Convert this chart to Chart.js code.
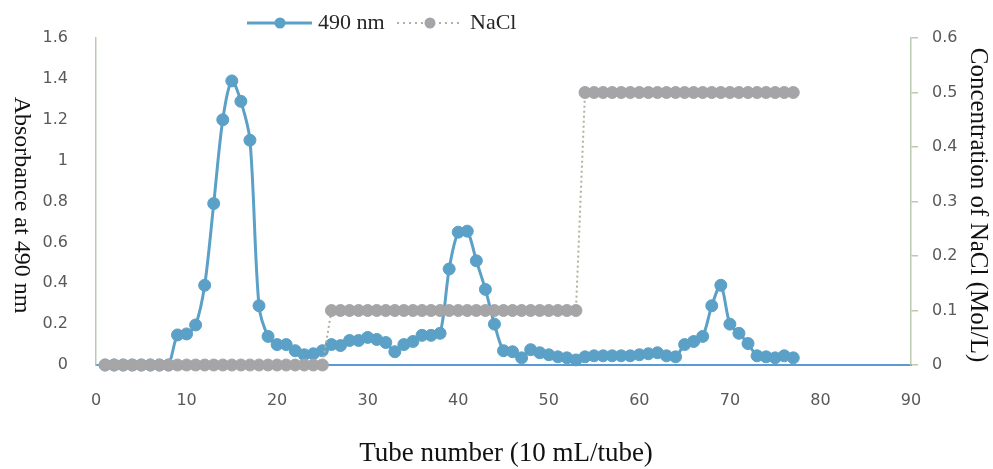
<!DOCTYPE html>
<html>
<head>
<meta charset="utf-8">
<script src="https://cdn.jsdelivr.net/npm/chart.js@4.4.1/dist/chart.umd.min.js"></script>
<style>
  html, body { margin: 0; padding: 0; background: #fff; }
  #wrap { width: 993px; height: 469px; }
</style>
</head>
<body>
<div id="wrap"><canvas id="chart"></canvas></div>
<script>
// tube numbers
const tubes = [
  1, 2, 3, 4, 5, 6, 7, 8, 9, 10,
  11, 12, 13, 14, 15, 16, 17, 18, 19, 20,
  21, 22, 23, 24, 25, 26, 27, 28, 29, 30,
  31, 32, 33, 34, 35, 36, 37, 38, 39, 40,
  41, 42, 43, 44, 45, 46, 47, 48, 49, 50,
  51, 52, 53, 54, 55, 56, 57, 58, 59, 60,
  61, 62, 63, 64, 65, 66, 67, 68, 69, 70,
  71, 72, 73, 74, 75, 76, 77
];

// absorbance at 490 nm
const absorbance = [
  0, 0, 0, 0, 0, 0, 0, 0, 0.147, 0.152,
  0.196, 0.39, 0.79, 1.2, 1.39, 1.29, 1.1, 0.29, 0.14, 0.1,
  0.1, 0.07, 0.05, 0.055, 0.07, 0.1, 0.095, 0.12, 0.12, 0.135,
  0.125, 0.11, 0.065, 0.1, 0.115, 0.145, 0.145, 0.155, 0.47, 0.65,
  0.655, 0.51, 0.37, 0.2, 0.07, 0.065, 0.035, 0.075, 0.06, 0.05,
  0.04, 0.035, 0.025, 0.04, 0.045, 0.045, 0.045, 0.045, 0.045, 0.05,
  0.055, 0.06, 0.045, 0.04, 0.1, 0.115, 0.14, 0.29, 0.39, 0.2,
  0.155, 0.105, 0.045, 0.04, 0.035, 0.045, 0.035
];

// NaCl concentration (Mol/L)
const nacl = [
  0, 0, 0, 0, 0, 0, 0, 0, 0, 0,
  0, 0, 0, 0, 0, 0, 0, 0, 0, 0,
  0, 0, 0, 0, 0, 0.1, 0.1, 0.1, 0.1, 0.1,
  0.1, 0.1, 0.1, 0.1, 0.1, 0.1, 0.1, 0.1, 0.1, 0.1,
  0.1, 0.1, 0.1, 0.1, 0.1, 0.1, 0.1, 0.1, 0.1, 0.1,
  0.1, 0.1, 0.1, 0.5, 0.5, 0.5, 0.5, 0.5, 0.5, 0.5,
  0.5, 0.5, 0.5, 0.5, 0.5, 0.5, 0.5, 0.5, 0.5, 0.5,
  0.5, 0.5, 0.5, 0.5, 0.5, 0.5, 0.5
];

const BLUE = '#5ba0c6';
const GRAY = '#a5a5a7';
const DOTS = '#a9b59c';
const AXIS = '#b9cbb0';
const TICK_FONT = { family: '"DejaVu Sans"', size: 16 };

const toPoints = (ys) => tubes.map((t, i) => ({ x: t, y: ys[i] }));
const plainNumber = (v) => String(Number(v.toFixed(2)));

// titles and legend drawn by hand (left title reads top-down like the original)
const decorations = {
  id: 'decorations',
  afterDraw(chart) {
    const ctx = chart.ctx;
    ctx.save();
    ctx.fillStyle = '#111';
    ctx.textAlign = 'center';
    ctx.textBaseline = 'middle';

    ctx.font = '27px "Liberation Serif"';
    ctx.fillText('Tube number (10 mL/tube)', 506, 454);

    ctx.font = '24px "Liberation Serif"';
    ctx.save();
    ctx.translate(21, 205);
    ctx.rotate(Math.PI / 2);
    ctx.fillText('Absorbance at 490 nm', 0, 0);
    ctx.restore();

    ctx.font = '25px "Liberation Serif"';
    ctx.save();
    ctx.translate(978, 205);
    ctx.rotate(Math.PI / 2);
    ctx.fillText('Concentration of NaCl (Mol/L)', 0, 0);
    ctx.restore();

    // legend
    const ly = 23;
    ctx.lineWidth = 3;
    ctx.strokeStyle = BLUE;
    ctx.beginPath();
    ctx.moveTo(247, ly);
    ctx.lineTo(312, ly);
    ctx.stroke();
    ctx.fillStyle = BLUE;
    ctx.beginPath();
    ctx.arc(280, ly, 5.5, 0, Math.PI * 2);
    ctx.fill();

    ctx.lineWidth = 2;
    ctx.strokeStyle = DOTS;
    ctx.setLineDash([2, 4]);
    ctx.beginPath();
    ctx.moveTo(397, ly);
    ctx.lineTo(460, ly);
    ctx.stroke();
    ctx.setLineDash([]);
    ctx.fillStyle = GRAY;
    ctx.beginPath();
    ctx.arc(430, ly, 5.5, 0, Math.PI * 2);
    ctx.fill();

    ctx.fillStyle = '#262626';
    ctx.font = '22px "Liberation Serif"';
    ctx.textAlign = 'left';
    ctx.fillText('490 nm', 318, ly);
    ctx.fillText('NaCl', 470, ly);
    ctx.restore();
  }
};

new Chart(document.getElementById('chart'), {
  type: 'line',
  data: {
    datasets: [
      {
        label: '490 nm',
        data: toPoints(absorbance),
        yAxisID: 'y',
        borderColor: BLUE,
        backgroundColor: BLUE,
        pointBorderColor: BLUE,
        borderWidth: 3,
        pointRadius: 6,
        pointBorderWidth: 1,
        tension: 0.3,
        clip: false,
        order: 2
      },
      {
        label: 'NaCl',
        data: toPoints(nacl),
        yAxisID: 'y1',
        borderColor: DOTS,
        backgroundColor: GRAY,
        pointBorderColor: GRAY,
        borderWidth: 2,
        borderDash: [2, 3],
        pointRadius: 6,
        pointBorderWidth: 1,
        tension: 0,
        clip: false,
        order: 1
      }
    ]
  },
  options: {
    responsive: true,
    maintainAspectRatio: false,
    animation: false,
    layout: { padding: { top: 38 } },
    plugins: {
      legend: { display: false },
      tooltip: { enabled: false }
    },
    scales: {
      x: {
        type: 'linear',
        min: 0,
        max: 90,
        afterFit(scale) { scale.height = 104; },
        ticks: { stepSize: 10, color: '#595959', font: TICK_FONT, padding: 18, maxRotation: 0 },
        grid: { display: false },
        border: { color: '#5b9bd5', width: 2 }
      },
      y: {
        position: 'left',
        min: 0,
        max: 1.6,
        afterFit(scale) { scale.width = 96; },
        ticks: { stepSize: 0.2, color: '#595959', font: TICK_FONT, padding: 20, callback: plainNumber },
        grid: { display: false },
        border: { color: AXIS, width: 1.5 }
      },
      y1: {
        position: 'right',
        min: 0,
        max: 0.6,
        afterFit(scale) { scale.width = 82; },
        ticks: { stepSize: 0.1, color: '#595959', font: TICK_FONT, padding: 14, callback: plainNumber },
        grid: { drawOnChartArea: false, color: AXIS, tickLength: 7, lineWidth: 1.5 },
        border: { color: AXIS, width: 1.5 }
      }
    }
  },
  plugins: [decorations]
});
</script>
</body>
</html>
